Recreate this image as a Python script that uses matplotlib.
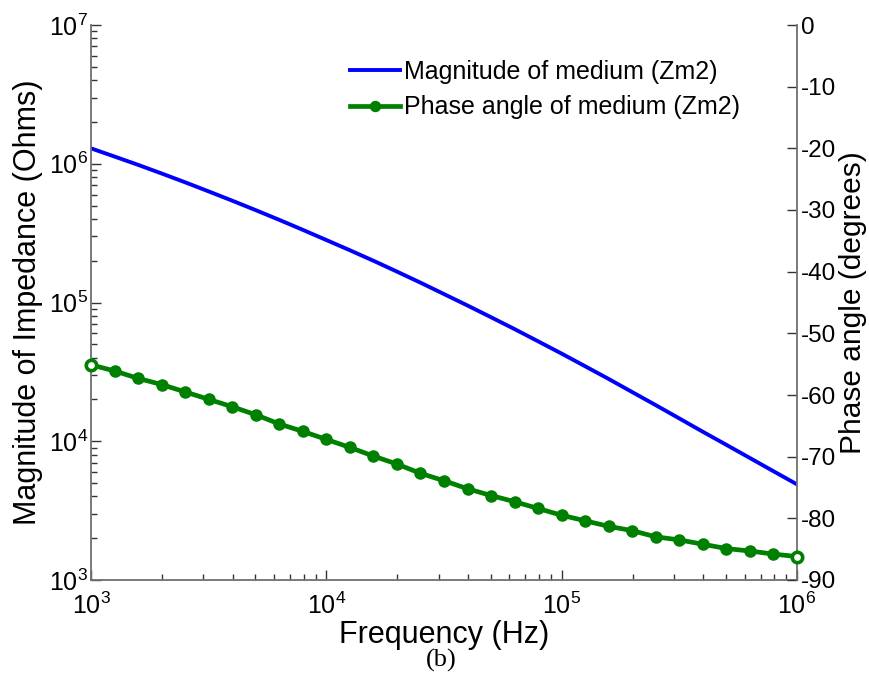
import matplotlib
matplotlib.use("Agg")
import matplotlib.pyplot as plt
from matplotlib.ticker import LogLocator, MultipleLocator, NullFormatter

plt.rcParams['font.family'] = ['Liberation Sans', 'DejaVu Sans']
plt.rcParams['axes.unicode_minus'] = False
plt.rcParams['mathtext.default'] = 'regular'

# Frequency sweep (Hz), 10 points per decade
freq = [1000, 1259, 1585, 1995, 2512, 3162, 3981, 5012, 6310, 7943,
        10000, 12589, 15849, 19953, 25119, 31623, 39811, 50119, 63096, 79433,
        100000, 125893, 158489, 199526, 251189, 316228, 398107, 501187, 630957, 794328,
        1000000]

# |Z| of medium Zm2 (Ohms)
magnitude = [1.291e6, 1.127e6, 9.82e5, 8.51e5, 7.35e5, 6.32e5, 5.42e5, 4.63e5, 3.94e5, 3.34e5,
             2.82e5, 2.38e5, 2.00e5, 1.67e5, 1.39e5, 1.15e5, 9.51e4, 7.83e4, 6.43e4, 5.25e4,
             4.28e4, 3.47e4, 2.81e4, 2.26e4, 1.82e4, 1.46e4, 1.17e4, 9.42e3, 7.57e3, 6.08e3,
             4.89e3]

# Phase of Zm2 (degrees)
phase = [-55.1, -56.1, -57.3, -58.3, -59.5, -60.7, -61.9, -63.2, -64.7, -65.9,
         -67.2, -68.5, -69.9, -71.2, -72.7, -73.9, -75.2, -76.3, -77.3, -78.4,
         -79.5, -80.4, -81.3, -82.0, -83.0, -83.5, -84.2, -84.9, -85.3, -85.8,
         -86.2]

mag_label = "Magnitude of medium (Zm2)"
phase_label = "Phase angle of medium (Zm2)"

blue = "#0000ff"
green = "#008000"
spine_col = "#707070"

fig = plt.figure(figsize=(8.7, 6.91), dpi=100)
ax = fig.add_axes([91 / 870, 1 - 580 / 691, (797 - 91) / 870, (580 - 25) / 691])
ax2 = ax.twinx()

l1, = ax.plot(freq, magnitude, color=blue, lw=2.8, label=mag_label)
l2, = ax2.plot(freq, phase, color=green, lw=3.4, marker='o', ms=8,
               mfc=green, mec=green, label=phase_label)
ax2.plot([freq[0], freq[-1]], [phase[0], phase[-1]], ls='none', marker='o',
         ms=7.5, mfc='white', mec=green, mew=2.6, clip_on=False, zorder=5)

ax.set_xscale('log')
ax.set_yscale('log')
ax.set_xlim(1e3, 1e6)
ax.set_ylim(1e3, 1e7)
ax2.set_ylim(-90, 0)
ax2.yaxis.set_major_locator(MultipleLocator(10))

ax.xaxis.set_minor_locator(LogLocator(base=10, subs=range(2, 10), numticks=20))
ax.yaxis.set_minor_locator(LogLocator(base=10, subs=range(2, 10), numticks=20))
ax.xaxis.set_minor_formatter(NullFormatter())
ax.yaxis.set_minor_formatter(NullFormatter())

for a in (ax, ax2):
    a.spines['top'].set_visible(False)
    for s in a.spines.values():
        s.set_color(spine_col)
        s.set_linewidth(1.3)
ax.spines['right'].set_visible(False)
ax2.spines['left'].set_visible(False)
ax2.spines['bottom'].set_visible(False)

ax.tick_params(axis='both', which='major', direction='in', length=7, width=1,
               color='#333333', labelsize=18, top=False, right=False)
ax.tick_params(axis='both', which='minor', direction='in', length=4, width=1,
               color='#333333', top=False, right=False)
ax.tick_params(axis='x', which='major', pad=9)
ax.tick_params(axis='y', which='major', pad=2)
ax2.tick_params(axis='y', direction='in', length=7, width=1, color='#333333',
                labelsize=17.5, pad=3)

ax.set_xlabel("Frequency (Hz)", fontsize=22, labelpad=1)
ax.set_ylabel("Magnitude of Impedance (Ohms)", fontsize=22, labelpad=4)
ax2.set_ylabel("Phase angle (degrees)", fontsize=21.5, labelpad=2)

leg = ax2.legend([l1, l2], [mag_label, phase_label], loc='upper left',
                 bbox_to_anchor=(350 / 870, 1 - 60 / 691), bbox_transform=fig.transFigure,
                 frameon=False, fontsize=18, handlelength=2.0, handletextpad=0.15,
                 labelspacing=0.45, borderpad=0, borderaxespad=0, markerscale=0.9)

fig.text(441 / 870, 1 - 660 / 691, "(b)", ha='center', va='center',
         family=['Liberation Serif', 'DejaVu Serif'], fontsize=19)

fig.savefig("out.png", dpi=100)
